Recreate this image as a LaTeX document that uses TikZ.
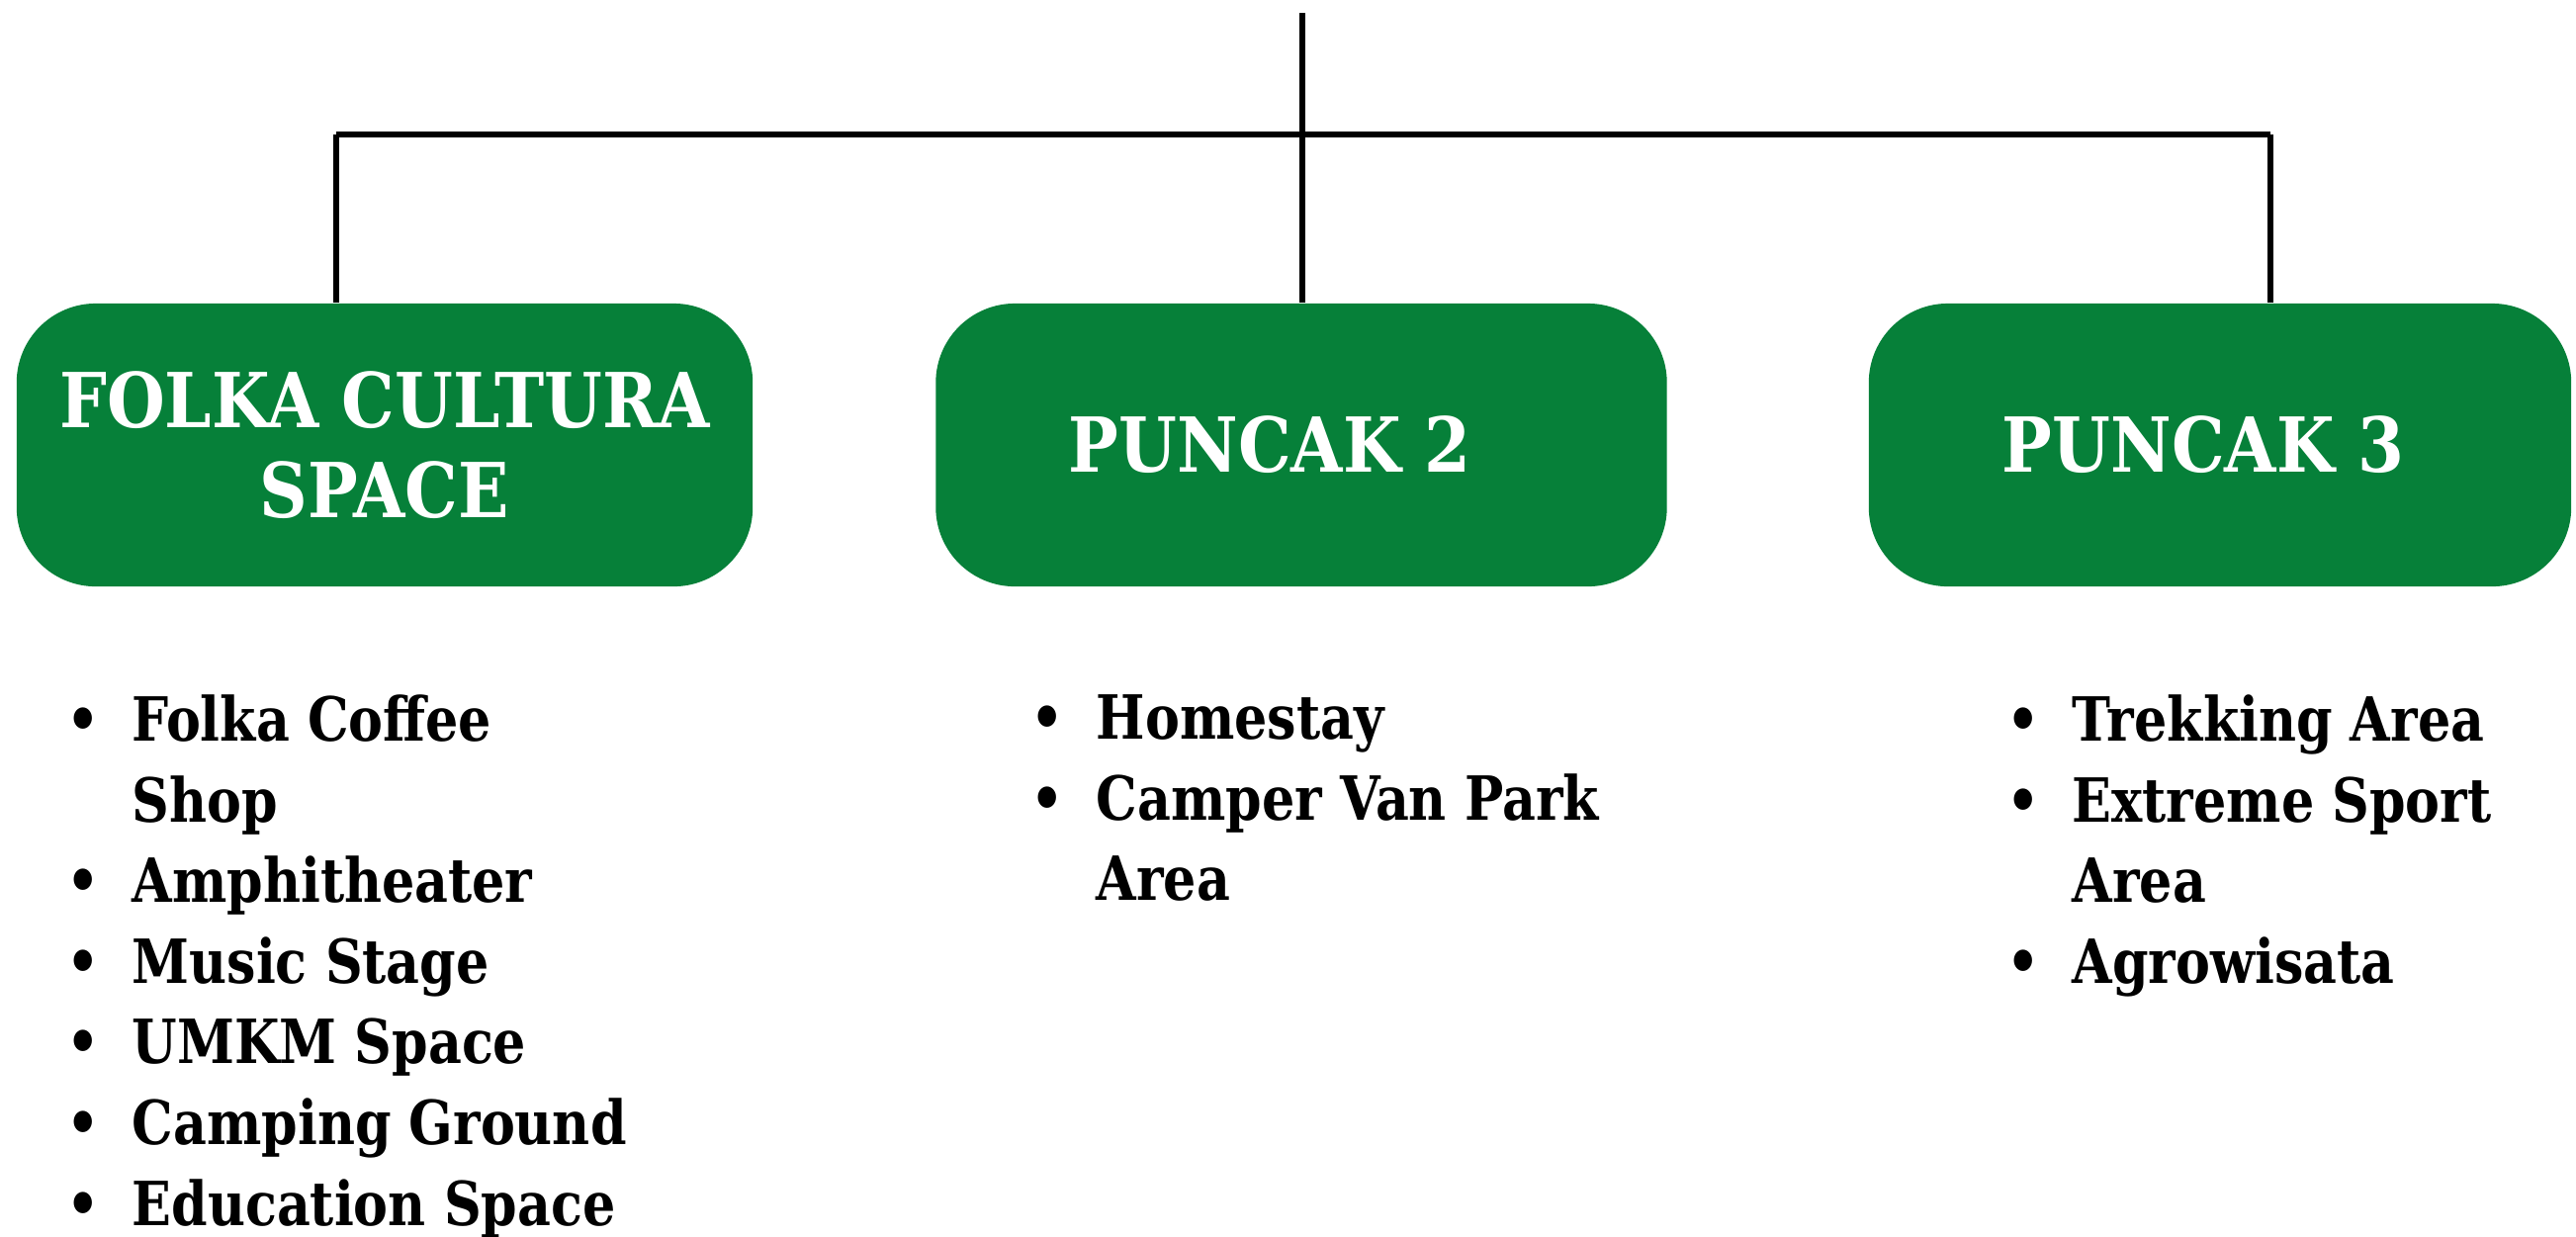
\documentclass[tikz,border=0pt]{standalone}
\usepackage{fontspec}
\usepackage{tikz}
\newfontfamily\listfont{DejaVu Serif}[FakeStretch=0.85]
\newfontfamily\headfont{DejaVu Serif}[FakeStretch=0.88]
\definecolor{leafgreen}{RGB}{6,128,57}
\newcommand{\bul}{\makebox[1cm][c]{\textbullet}}
\newcommand{\cont}{\hspace*{1cm}}
\tikzset{
  greenbox/.style={fill=leafgreen, rounded corners=0.8cm, minimum height=2.86cm,
    text=white, align=center, inner sep=0pt,
    font=\headfont\bfseries\fontsize{21.8}{25.8}\selectfont},
  itemlist/.style={anchor=north west, align=left, inner sep=0pt,
    font=\listfont\bfseries\fontsize{17.5}{23.2}\selectfont},
  link/.style={line width=1.8pt}
}

\begin{document}
\begin{tikzpicture}[x=0.01cm,y=-0.01cm]
  \useasboundingbox (0,0) rectangle (2605,1250);
  \node[greenbox, minimum width=7.44cm] (folka) at (389,450) {FOLKA CULTURA\\SPACE};
  \node[greenbox, minimum width=7.39cm] (puncak2) at (1316,450) {\hspace*{-0.64cm}PUNCAK 2};
  \node[greenbox, minimum width=7.10cm] (puncak3) at (2245,450) {\hspace*{-0.34cm}PUNCAK 3};
  \coordinate (root) at (1317,13);
  \coordinate (barL) at (340,136);
  \coordinate (barR) at (2296,136);
  \draw[link] (root) -- (root |- puncak2.north);
  \draw[link] (barL) -- (barR);
  \draw[link] (barL) -- (barL |- folka.north);
  \draw[link] (barR) -- (barR |- puncak3.north);
  \node[itemlist] (list1) at (33,702) {\bul Folka Coffee\\ \cont Shop\\ \bul Amphitheater\\
    \bul Music Stage\\ \bul UMKM Space\\ \bul Camping Ground\\ \bul Education Space};
  \node[itemlist] (list2) at (1008,702) {\bul Homestay\\ \bul Camper Van Park\\ \cont Area};
  \node[itemlist] (list3) at (1995,702) {\bul Trekking Area\\ \bul Extreme Sport\\ \cont Area\\
    \bul Agrowisata};
\end{tikzpicture}
\end{document}
